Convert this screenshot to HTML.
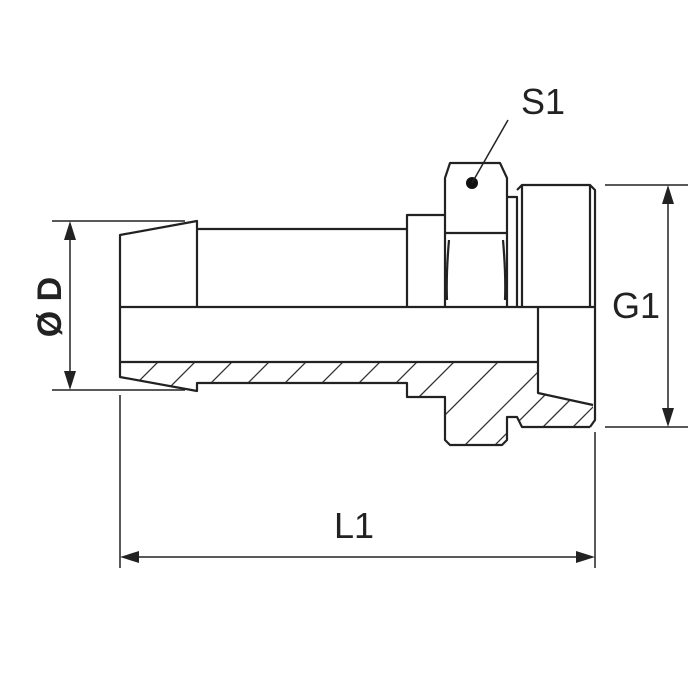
<!DOCTYPE html>
<html><head><style>body{margin:0;background:#fff}svg{display:block}</style></head><body>
<svg width="700" height="700" viewBox="0 0 700 700" xmlns="http://www.w3.org/2000/svg">
<defs>
<clipPath id="hc"><path d="M120,362 L538,362 L538,393 L593,405 L593,420 L590,427 L522,427 L517,417 L507,417 L507,440 L502,445 L450,445 L445,440 L445,397 L407,397 L407,383 L197,383 L197,391 L120,377 Z"/></clipPath>
</defs>
<g clip-path="url(#hc)" stroke="#333" stroke-width="1.3">
<line x1="100" y1="420" x2="160" y2="360"/><line x1="137" y1="420" x2="197" y2="360"/><line x1="174" y1="420" x2="234" y2="360"/><line x1="211" y1="420" x2="271" y2="360"/><line x1="248" y1="420" x2="308" y2="360"/><line x1="285" y1="420" x2="345" y2="360"/><line x1="322" y1="420" x2="382" y2="360"/><line x1="359" y1="420" x2="419" y2="360"/><line x1="396" y1="420" x2="456" y2="360"/>
<line x1="410" y1="450" x2="500" y2="360"/><line x1="440" y1="470" x2="540" y2="370"/><line x1="470" y1="470" x2="570" y2="370"/><line x1="510" y1="460" x2="580" y2="390"/><line x1="540" y1="460" x2="600" y2="400"/>
</g>
<g fill="none" stroke="#222" stroke-width="2.2" stroke-linejoin="round">
<path d="M120,307 L120,235 L197,221 L197,307"/>
<path d="M197,229 L407,229"/>
<path d="M407,307 L407,215 L445,215"/>
<path d="M445,307 L445,178 L450,163 L500,163 L507,178 L507,307"/>
<path d="M445,233 L507,233"/>
<path d="M449,240 Q446,275 447,300 M503,240 Q506,275 505,300"/>
<path d="M507,197 L517,197 L517,307"/>
<path d="M517,190 L522,185 L590,185 L595,190 L595,420 L590,427"/>
<path d="M522,185 L522,307 M590,185 L590,307"/>
<path d="M120,307 L595,307"/>
<path d="M120,307 L120,377 L197,391 L197,383 L407,383 L407,397 L445,397 L445,440 L450,445 L502,445 L507,440 L507,417 L517,417 L522,427 L590,427"/>
<path d="M120,362 L538,362"/>
<path d="M538,307 L538,393 L593,405"/>
</g>
<circle cx="472" cy="183" r="6" fill="#111"/>
<line x1="472" y1="183" x2="508" y2="120" stroke="#222" stroke-width="1.5"/>
<g stroke="#222" stroke-width="1.5" fill="none">
<line x1="52" y1="221" x2="185" y2="221"/><line x1="52" y1="390" x2="185" y2="390"/>
<line x1="70" y1="232" x2="70" y2="379"/>
<line x1="120" y1="395" x2="120" y2="568"/><line x1="595" y1="432" x2="595" y2="568"/>
<line x1="130" y1="557" x2="585" y2="557"/>
<line x1="605" y1="185" x2="688" y2="185"/><line x1="605" y1="427" x2="688" y2="427"/>
<line x1="668" y1="196" x2="668" y2="416"/>
</g>
<g fill="#222">
<path d="M70,221 L64,240 L76,240 Z"/><path d="M70,390 L64,371 L76,371 Z"/>
<path d="M120,557 L139,551 L139,563 Z"/><path d="M595,557 L576,551 L576,563 Z"/>
<path d="M668,185 L662,204 L674,204 Z"/><path d="M668,427 L662,408 L674,408 Z"/>
</g>
<g font-family="Liberation Sans, sans-serif" font-size="36" fill="#222">
<text x="521" y="114">S1</text>
<text x="612" y="318">G1</text>
<text x="334" y="538">L1</text>
<text transform="translate(61,307) rotate(-90)" text-anchor="middle" font-weight="bold" font-size="34">Ø D</text>
</g>
</svg>
</body></html>
